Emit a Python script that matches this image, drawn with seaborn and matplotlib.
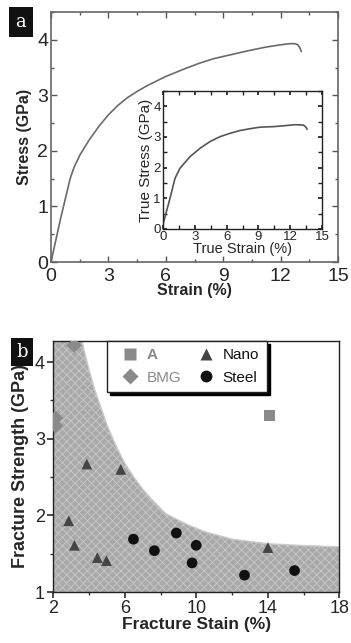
import matplotlib
matplotlib.use('Agg')
import matplotlib.pyplot as plt
from matplotlib.ticker import MultipleLocator
import pandas as pd
import seaborn as sns

sns.set_theme(style='ticks')
plt.rcParams['font.family'] = ['Liberation Sans', 'DejaVu Sans']
plt.rcParams['hatch.linewidth'] = 0.6

# (a) engineering stress-strain curve
strain = [0, 0.5, 1.0, 1.2, 1.5, 2.0, 2.5, 3.0, 3.5, 4.0, 4.5, 5.0, 6.0, 7.0, 7.77,
          8.5, 9.5, 10.4, 11.25, 12.0, 12.47, 12.75, 12.9, 13.0, 13.08]
stress = [0, 0.78, 1.5, 1.7, 1.92, 2.2, 2.44, 2.65, 2.82, 2.96, 3.07, 3.17, 3.34, 3.48, 3.58,
          3.66, 3.74, 3.81, 3.87, 3.91, 3.93, 3.93, 3.91, 3.86, 3.79]

# inset: true stress-strain
true_strain = [0, 0.03, 0.66, 1.13, 1.6, 2.55, 3.49, 4.43, 5.38, 6.32, 7.26, 8.21,
               9.15, 10.57, 12.45, 13.24, 13.49, 13.6]
true_stress = [0, 0.19, 1.0, 1.65, 1.98, 2.36, 2.63, 2.85, 3.01, 3.12, 3.21, 3.27,
               3.32, 3.34, 3.40, 3.39, 3.32, 3.25]

# (b) fracture strength vs fracture strain
groups = ['A', 'BMG', 'BMG', 'BMG',
          'Nano', 'Nano', 'Nano', 'Nano', 'Nano', 'Nano', 'Nano',
          'Steel', 'Steel', 'Steel', 'Steel', 'Steel', 'Steel', 'Steel']
frac_strain = [14.09, 3.16, 2.12, 2.12,
               3.87, 5.77, 2.86, 3.18, 4.46, 4.97, 14.0,
               6.48, 7.65, 8.88, 9.99, 9.76, 12.69, 15.49]
frac_strength = [3.30, 4.22, 3.27, 3.17,
                 2.67, 2.60, 1.93, 1.61, 1.45, 1.41, 1.58,
                 1.69, 1.54, 1.77, 1.61, 1.38, 1.22, 1.28]

# upper edge of the shaded region
bound_x = [2.0, 3.0, 3.6, 3.8, 4.0, 4.3, 4.6, 5.0, 5.5, 6.0, 6.5, 7.0, 7.5, 8.3,
           9.5, 10.5, 12.0, 14.0, 16.0, 18.0]
bound_y = [6.4, 4.95, 4.28, 4.08, 3.9, 3.65, 3.45, 3.18, 2.91, 2.68, 2.5, 2.34, 2.21, 2.02,
           1.88, 1.785, 1.69, 1.63, 1.606, 1.59]

x_ticks_b = [2, 6, 10, 14, 18]
x_minor_b = [4, 8, 12, 16]

df = pd.DataFrame({'strain': frac_strain, 'strength': frac_strength, 'group': groups})
palette = {'A': '#8a8a8a', 'BMG': '#8a8a8a', 'Nano': '#454545', 'Steel': '#111111'}
markers = {'A': 's', 'BMG': 'D', 'Nano': '^', 'Steel': 'o'}

fig = plt.figure(figsize=(3.51, 6.43), dpi=100)
ax1 = fig.add_axes([0.1453, 0.5925, 0.8177, 0.3888])
axin = fig.add_axes([0.4644, 0.6439, 0.4530, 0.2146])
ax2 = fig.add_axes([0.152, 0.0793, 0.815, 0.3908])

# ---- panel a
sns.lineplot(x=strain, y=stress, ax=ax1, color='#6a6a6a', lw=1.2, sort=False, estimator=None)
ax1.set_xlim(0, 15)
ax1.set_ylim(0, 4.5)
ax1.xaxis.set_major_locator(MultipleLocator(3))
ax1.xaxis.set_minor_locator(MultipleLocator(1.5))
ax1.yaxis.set_major_locator(MultipleLocator(1))
ax1.yaxis.set_minor_locator(MultipleLocator(0.5))
ax1.tick_params(which='both', direction='in', top=True, right=True, color='#555555',
                labelsize=14)
ax1.tick_params(axis='x', pad=4)
ax1.tick_params(axis='y', pad=2)
ax1.tick_params(which='major', length=4, width=1)
ax1.tick_params(which='minor', length=2.5, width=1)
for s in ax1.spines.values():
    s.set_color('#666666')
    s.set_linewidth(1.2)
ax1.set_xlabel('Strain (%)', fontsize=11.5, fontweight='bold', labelpad=-1)
ax1.set_ylabel('Stress (GPa)', fontsize=11.5, fontweight='bold', labelpad=4)

sns.lineplot(x=true_strain, y=true_stress, ax=axin, color='#555555', lw=1.2,
             sort=False, estimator=None)
axin.set_xlim(0, 15)
axin.set_ylim(0, 4.5)
axin.xaxis.set_major_locator(MultipleLocator(3))
axin.xaxis.set_minor_locator(MultipleLocator(1.5))
axin.yaxis.set_major_locator(MultipleLocator(1))
axin.yaxis.set_minor_locator(MultipleLocator(0.5))
axin.tick_params(which='both', direction='in', top=True, right=True, labelsize=9.5, pad=1.5,
                 color='#222222')
axin.tick_params(which='major', length=3)
axin.tick_params(which='minor', length=3)
for s in axin.spines.values():
    s.set_color('#222222')
    s.set_linewidth(1.0)
axin.set_xlabel('True Strain (%)', fontsize=10.5, labelpad=-1)
axin.set_ylabel('True Stress (GPa)', fontsize=11, labelpad=0)

fig.text(21 / 351, 1 - 22 / 643, 'a', color='white', fontsize=13, family='DejaVu Serif',
         ha='center', va='center',
         bbox=dict(facecolor='#111111', edgecolor='none', boxstyle='square,pad=0.35'))

# ---- panel b
ax2.fill_between(bound_x, 1, bound_y, facecolor='#a9a9a9', edgecolor='#c8c8c8',
                 hatch='xxxx', linewidth=0, zorder=0)
ax2.plot(bound_x, bound_y, color='#cccccc', lw=1.0, zorder=0.5)
sns.scatterplot(data=df, x='strain', y='strength', hue='group', style='group',
                palette=palette, markers=markers, s=60, edgecolor='none', ax=ax2,
                hue_order=['A', 'BMG', 'Nano', 'Steel'], zorder=3)
ax2.set_xlim(2, 18)
ax2.set_ylim(1, 4.28)
ax2.set_xticks(x_ticks_b)
ax2.set_xticks(x_minor_b, minor=True)
ax2.yaxis.set_major_locator(MultipleLocator(1))
ax2.yaxis.set_minor_locator(MultipleLocator(0.5))
ax2.tick_params(which='both', direction='out', labelsize=13, pad=2, color='#333333')
ax2.tick_params(which='major', length=4)
ax2.tick_params(which='minor', length=2.5)
for s in ax2.spines.values():
    s.set_color('#222222')
    s.set_linewidth(1.0)
ax2.set_xlabel('Fracture Stain (%)', fontsize=12.5, fontweight='bold', labelpad=0)
ax2.set_ylabel('Fracture Strength (GPa)', fontsize=13, fontweight='bold', labelpad=4)

handles, labels = ax2.get_legend_handles_labels()
leg = ax2.legend(handles, labels, ncol=2, loc='upper left', bbox_to_anchor=(0.188, 1.0),
                 fontsize=11, frameon=True, fancybox=False, framealpha=1,
                 edgecolor='#222222', shadow={'color': 'black', 'alpha': 1},
                 handletextpad=0.1, columnspacing=0.6, borderpad=0.5,
                 labelspacing=0.55, markerscale=1.1, borderaxespad=0)
leg.get_frame().set_linewidth(1.0)
text_colors = {'A': '#8a8a8a', 'BMG': '#8a8a8a', 'Nano': '#111111', 'Steel': '#111111'}
for t in leg.get_texts():
    t.set_color(text_colors[t.get_text()])
    if t.get_text() == 'A':
        t.set_fontweight('bold')

fig.text(22 / 351, 1 - 352 / 643, 'b', color='white', fontsize=13, family='DejaVu Serif',
         ha='center', va='center',
         bbox=dict(facecolor='#111111', edgecolor='none', boxstyle='square,pad=0.3'))

fig.savefig('out.png', dpi=100)
